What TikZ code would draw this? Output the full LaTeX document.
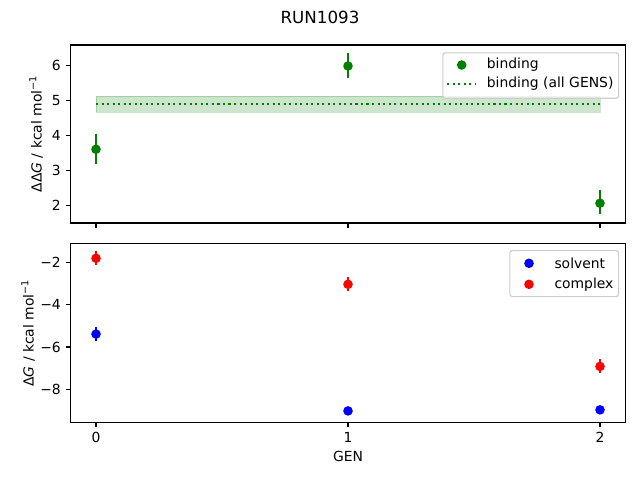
\documentclass[tikz,border=0pt]{standalone}
\usepackage{fontspec}
\setmainfont{DejaVu Sans}
\begin{document}
\begin{tikzpicture}[x=1pt,y=-1pt,
  declare function={gx(\g)=96+252*\g; ty(\v)=205.3-35*(\v-2); by(\v)=262.3-21.17*(\v+2);},
  lbl/.style={font=\fontsize{13.9}{16}\selectfont, inner sep=0pt},
  axisframe/.style={draw=black, line width=1.11pt},
  tickmark/.style={draw=black, line width=1.11pt},
  errbar/.style={line width=2.08pt},
  dot/.style={circle, inner sep=0pt, minimum size=9.6pt},
  legbox/.style={draw=black!20, fill=white, fill opacity=0.8, draw opacity=1, rounded corners=2.5pt, line width=1.11pt}
]
\useasboundingbox (0,0) rectangle (640,480);
\fill[white] (0,0) rectangle (640,480);
\definecolor{mgreen}{HTML}{008000}
\definecolor{mblue}{HTML}{0000FF}
\definecolor{mred}{HTML}{FF0000}

% title
\node[lbl, font=\fontsize{16.7}{19}\selectfont] (title) at (320,17) {RUN1093};

% ---------- top axes ----------
\coordinate (tA) at (70.8,45);
\coordinate (tB) at (625.2,223);
% band
\fill[mgreen, opacity=0.2] ({gx(0)},{ty(5.12)}) rectangle ({gx(2)},{ty(4.66)});
\draw[mgreen, opacity=0.2, line width=1pt] ({gx(0)},{ty(5.12)}) rectangle ({gx(2)},{ty(4.66)});
% dotted line
\draw[mgreen, line width=2.08pt, dash pattern=on 2.08pt off 3.44pt] ({gx(0)},{ty(4.89)}) -- ({gx(2)},{ty(4.89)});
% error bars
\draw[mgreen, errbar] ({gx(0)},{ty(4.03)}) -- ({gx(0)},{ty(3.19)});
\draw[mgreen, errbar] ({gx(1)},{ty(6.34)}) -- ({gx(1)},{ty(5.65)});
\draw[mgreen, errbar] ({gx(2)},{ty(2.43)}) -- ({gx(2)},{ty(1.74)});
\node[dot, fill=mgreen] (b0) at ({gx(0)},{ty(3.6)}) {};
\node[dot, fill=mgreen] (b1) at ({gx(1)},{ty(5.98)}) {};
\node[dot, fill=mgreen] (b2) at ({gx(2)},{ty(2.06)}) {};
% frame
\draw[axisframe] (tA) rectangle (tB);
% y ticks
\foreach \v in {2,...,6} {
  \draw[tickmark] (70.8,{ty(\v)}) -- ++(-4.86,0);
  \node[lbl, anchor=east] (ty\v) at (61,{ty(\v)}) {\v};
}
% x ticks (no labels)
\foreach \g in {0,1,2} {
  \draw[tickmark] ({gx(\g)},223) -- ++(0,4.86);
}
% y label
\node[lbl, rotate=90] (tylab) at (36,134) {ΔΔ\textit{G} / kcal mol\textsuperscript{−1}};
% legend
\node[legbox, minimum width=175.7pt, minimum height=45.4pt, anchor=north west] (tleg) at (442.3,52.3) {};
\node[dot, fill=mgreen] (tlm) at (461.7,65) {};
\node[lbl, anchor=west] (tlt1) at (486.7,65) {binding};
\draw[mgreen, line width=2.08pt, dash pattern=on 2.08pt off 3.44pt] (447,84) -- (476,84);
\node[lbl, anchor=west] (tlt2) at (486.7,84) {binding (all GENS)};

% ---------- bottom axes ----------
\coordinate (bA) at (70.8,243.3);
\coordinate (bB) at (625.2,422.3);
% error bars
\draw[mblue, errbar] ({gx(0)},{by(-5.06)}) -- ({gx(0)},{by(-5.72)});
\draw[mred, errbar] ({gx(0)},{by(-1.47)}) -- ({gx(0)},{by(-2.15)});
\draw[mred, errbar] ({gx(1)},{by(-2.71)}) -- ({gx(1)},{by(-3.37)});
\draw[mred, errbar] ({gx(2)},{by(-6.59)}) -- ({gx(2)},{by(-7.25)});
\draw[mblue, errbar] ({gx(1)},{by(-8.95)}) -- ({gx(1)},{by(-9.09)});
\draw[mblue, errbar] ({gx(2)},{by(-8.90)}) -- ({gx(2)},{by(-9.04)});
\node[dot, fill=mblue] (s0) at ({gx(0)},{by(-5.39)}) {};
\node[dot, fill=mblue] (s1) at ({gx(1)},{by(-9.02)}) {};
\node[dot, fill=mblue] (s2) at ({gx(2)},{by(-8.97)}) {};
\node[dot, fill=mred] (c0) at ({gx(0)},{by(-1.81)}) {};
\node[dot, fill=mred] (c1) at ({gx(1)},{by(-3.04)}) {};
\node[dot, fill=mred] (c2) at ({gx(2)},{by(-6.92)}) {};
% frame
\draw[axisframe] (bA) rectangle (bB);
% y ticks
\foreach \v in {2,4,6,8} {
  \draw[tickmark] (70.8,{by(-\v)}) -- ++(-4.86,0);
  \node[lbl, anchor=east] (by\v) at (61,{by(-\v)}) {−\v};
}
% x ticks
\foreach \g in {0,1,2} {
  \draw[tickmark] ({gx(\g)},422.3) -- ++(0,4.86);
  \node[lbl, anchor=north] (bx\g) at ({gx(\g)},432) {\g};
}
\node[lbl, anchor=north] (xlab) at ({gx(1)},451) {GEN};
\node[lbl, rotate=90] (bylab) at (28,333) {Δ\textit{G} / kcal mol\textsuperscript{−1}};
% legend
\node[legbox, minimum width=108.7pt, minimum height=46pt, anchor=north west] (bleg) at (509.3,250) {};
\node[dot, fill=mblue] (blm1) at (529,263.3) {};
\node[lbl, anchor=west] (blt1) at (554.3,263.3) {solvent};
\node[dot, fill=mred] (blm2) at (529,284.3) {};
\node[lbl, anchor=west] (blt2) at (554.3,284.3) {complex};
\end{tikzpicture}
\end{document}
